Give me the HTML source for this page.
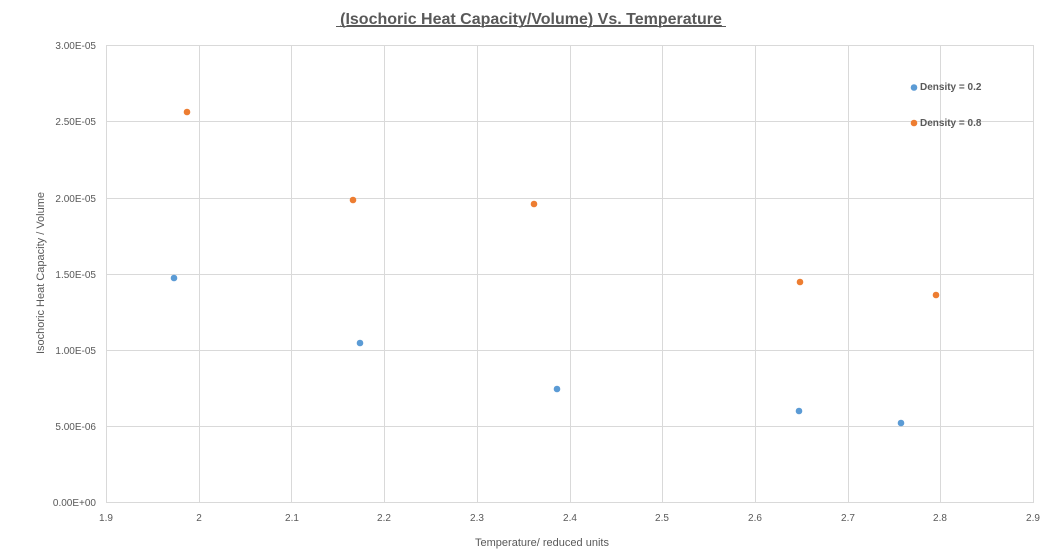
<!DOCTYPE html>
<html><head><meta charset="utf-8"><style>
body{margin:0;background:#fff;}
svg{display:block;font-family:"Liberation Sans",sans-serif;}
</style></head><body>
<svg width="1056" height="556" viewBox="0 0 1056 556" xmlns="http://www.w3.org/2000/svg">
<rect width="1056" height="556" fill="#fff"/>
<text x="531" y="24" text-anchor="middle" font-size="16" font-weight="bold" fill="#595959" text-decoration="underline">(Isochoric Heat Capacity/Volume) Vs. Temperature</text>
<line x1="336" y1="26.5" x2="726" y2="26.5" stroke="#595959" stroke-width="1"/>
<g stroke="#d9d9d9" stroke-width="1">
<line x1="106" y1="45.5" x2="1034" y2="45.5"/>
<line x1="106" y1="121.5" x2="1034" y2="121.5"/>
<line x1="106" y1="198.5" x2="1034" y2="198.5"/>
<line x1="106" y1="274.5" x2="1034" y2="274.5"/>
<line x1="106" y1="350.5" x2="1034" y2="350.5"/>
<line x1="106" y1="426.5" x2="1034" y2="426.5"/>
<line x1="106" y1="502.5" x2="1034" y2="502.5"/>
<line x1="106.5" y1="45" x2="106.5" y2="502"/>
<line x1="199.5" y1="45" x2="199.5" y2="502"/>
<line x1="291.5" y1="45" x2="291.5" y2="502"/>
<line x1="384.5" y1="45" x2="384.5" y2="502"/>
<line x1="477.5" y1="45" x2="477.5" y2="502"/>
<line x1="570.5" y1="45" x2="570.5" y2="502"/>
<line x1="662.5" y1="45" x2="662.5" y2="502"/>
<line x1="755.5" y1="45" x2="755.5" y2="502"/>
<line x1="848.5" y1="45" x2="848.5" y2="502"/>
<line x1="940.5" y1="45" x2="940.5" y2="502"/>
<line x1="1033.5" y1="45" x2="1033.5" y2="502"/>
</g>
<g font-size="10" fill="#595959" text-anchor="end">
<text x="96" y="49">3.00E-05</text>
<text x="96" y="125">2.50E-05</text>
<text x="96" y="202">2.00E-05</text>
<text x="96" y="278">1.50E-05</text>
<text x="96" y="354">1.00E-05</text>
<text x="96" y="430">5.00E-06</text>
<text x="96" y="506">0.00E+00</text>
</g>
<g font-size="10" fill="#595959" text-anchor="middle">
<text x="106" y="521">1.9</text>
<text x="199" y="521">2</text>
<text x="292" y="521">2.1</text>
<text x="384" y="521">2.2</text>
<text x="477" y="521">2.3</text>
<text x="570" y="521">2.4</text>
<text x="662" y="521">2.5</text>
<text x="755" y="521">2.6</text>
<text x="848" y="521">2.7</text>
<text x="940" y="521">2.8</text>
<text x="1033" y="521">2.9</text>
</g>
<text x="542" y="546" text-anchor="middle" font-size="11" fill="#595959">Temperature/ reduced units</text>
<text transform="translate(44,273) rotate(-90)" text-anchor="middle" font-size="11" fill="#595959">Isochoric Heat Capacity / Volume</text>
<g fill="#5b9bd5">
<circle cx="174" cy="278" r="3.3"/>
<circle cx="360" cy="343" r="3.3"/>
<circle cx="557" cy="389" r="3.3"/>
<circle cx="799" cy="411" r="3.3"/>
<circle cx="901" cy="423" r="3.3"/>
<circle cx="914" cy="87.5" r="3.3"/>
</g>
<g fill="#ed7d31">
<circle cx="187" cy="112" r="3.3"/>
<circle cx="353" cy="200" r="3.3"/>
<circle cx="534" cy="204" r="3.3"/>
<circle cx="800" cy="282" r="3.3"/>
<circle cx="936" cy="295" r="3.3"/>
<circle cx="914" cy="123" r="3.3"/>
</g>
<g font-size="10" font-weight="bold" fill="#595959">
<text x="920" y="90">Density = 0.2</text>
<text x="920" y="126">Density = 0.8</text>
</g>
</svg>
</body></html>
